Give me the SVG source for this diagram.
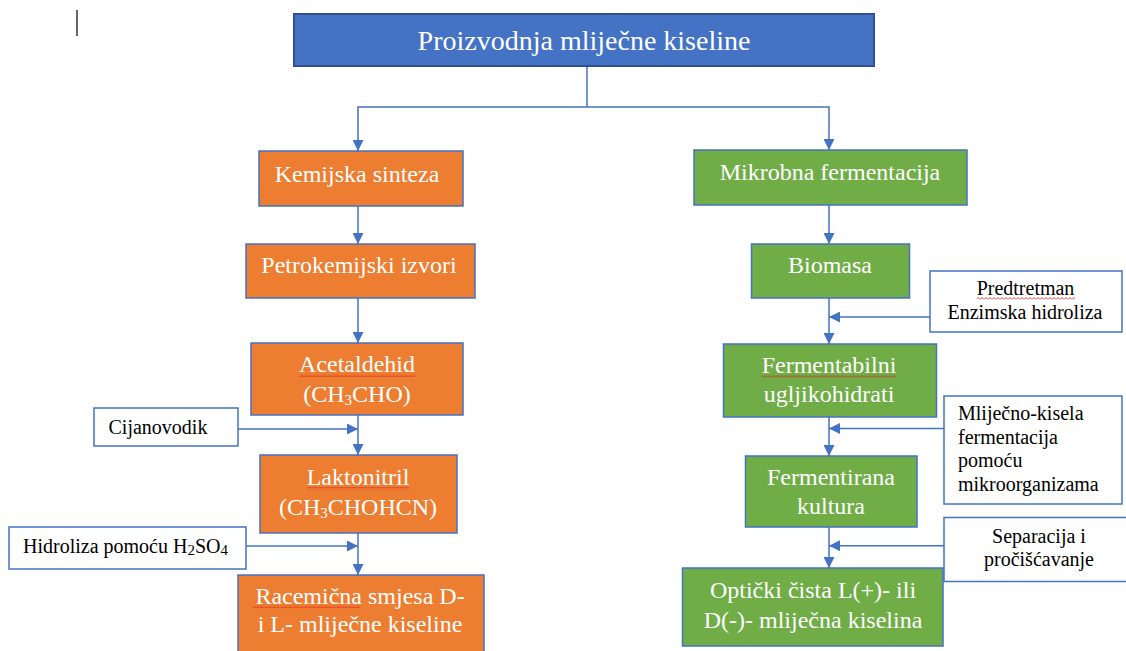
<svg xmlns="http://www.w3.org/2000/svg" width="1126" height="651" viewBox="0 0 1126 651" font-family="'Liberation Serif', 'Times New Roman', 'DejaVu Serif', serif">
<defs>
<marker id="arr" markerUnits="userSpaceOnUse" markerWidth="11" markerHeight="11" viewBox="0 0 10 10" refX="10" refY="5" orient="auto">
<path d="M0,0 L10,5 L0,10 z" fill="#4472C4"/>
</marker>
<pattern id="wavy" width="4" height="3" patternUnits="userSpaceOnUse">
<path d="M0,2.5 L2,0.5 L4,2.5" fill="none" stroke="#E02020" stroke-width="0.9"/>
</pattern>
<style>
text{font-family:'Liberation Serif','Times New Roman','DejaVu Serif',serif;}
.title{fill:#4472C4;stroke:#2F528F;stroke-width:2;}
.orange{fill:#ED7D31;stroke:#4472C4;stroke-width:1.5;}
.green{fill:#70AD47;stroke:#4472C4;stroke-width:1.5;}
.note{fill:#FFFFFF;stroke:#4472C4;stroke-width:1.5;}
.tw{fill:#FFFFFF;font-size:24px;text-anchor:middle;}
.tb{fill:#000000;font-size:20px;}
.tbm{fill:#000000;font-size:20px;text-anchor:middle;}
.conn path{fill:none;stroke:#4472C4;stroke-width:1.5;}
.sub{font-size:15px;}
</style>
</defs>
<rect width="1126" height="651" fill="#FFFFFF"/>
<line x1="77" y1="10" x2="77" y2="36" stroke="#000000" stroke-width="1.2"/>

<g id="connectors" class="conn">
<path d="M587,66 V107"/>
<path d="M587,107 H358 V151" marker-end="url(#arr)"/>
<path d="M587,107 H829 V150" marker-end="url(#arr)"/>
<path d="M358,206 V244" marker-end="url(#arr)"/>
<path d="M358,298 V343" marker-end="url(#arr)"/>
<path d="M358,415 V455" marker-end="url(#arr)"/>
<path d="M238,429 H358" marker-end="url(#arr)"/>
<path d="M358,533 V575" marker-end="url(#arr)"/>
<path d="M246,546 H358" marker-end="url(#arr)"/>
<path d="M829,205 V244" marker-end="url(#arr)"/>
<path d="M829,298 V344" marker-end="url(#arr)"/>
<path d="M930,317 H829" marker-end="url(#arr)"/>
<path d="M829,417 V456" marker-end="url(#arr)"/>
<path d="M944,428.5 H829" marker-end="url(#arr)"/>
<path d="M829,527 V568" marker-end="url(#arr)"/>
<path d="M944,545.7 H829" marker-end="url(#arr)"/>
</g>

<g id="title">
<rect class="title" x="294" y="14" width="580" height="52"/>
<text x="584" y="50" fill="#FFFFFF" font-size="28" text-anchor="middle">Proizvodnja mliječne kiseline</text>
</g>

<g id="kemijska">
<rect class="orange" x="259" y="151" width="204" height="55"/>
<text class="tw" x="357" y="182">Kemijska sinteza</text>
</g>

<g id="petrokemijski">
<rect class="orange" x="246" y="244" width="229" height="54"/>
<text class="tw" x="359" y="273">Petrokemijski izvori</text>
</g>

<g id="acetaldehid">
<rect class="orange" x="251" y="343" width="212" height="72"/>
<text class="tw" x="357" y="372">Acetaldehid</text>
<rect x="299" y="374" width="116" height="3" fill="url(#wavy)"/>
<text class="tw" x="357" y="402">(CH<tspan class="sub" dy="3">3</tspan><tspan dy="-3">CHO)</tspan></text>
</g>

<g id="cijanovodik">
<rect class="note" x="94" y="408" width="144" height="38"/>
<text class="tb" x="108.5" y="434">Cijanovodik</text>
</g>

<g id="laktonitril">
<rect class="orange" x="260" y="455" width="197" height="78"/>
<text class="tw" x="358" y="485">Laktonitril</text>
<rect x="307" y="487" width="102" height="3" fill="url(#wavy)"/>
<text class="tw" x="358" y="515">(CH<tspan class="sub" dy="3">3</tspan><tspan dy="-3">CHOHCN)</tspan></text>
</g>

<g id="hidroliza">
<rect class="note" x="9" y="527" width="237" height="42"/>
<text class="tb" x="23" y="553">Hidroliza pomoću H<tspan class="sub" font-size="13" dy="2">2</tspan><tspan dy="-2">SO</tspan><tspan class="sub" font-size="13" dy="2">4</tspan></text>
</g>

<g id="racemicna">
<rect class="orange" x="238" y="575" width="246" height="90"/>
<text class="tw" x="360" y="603.5">Racemična smjesa D-</text>
<rect x="253" y="605.5" width="107" height="3" fill="url(#wavy)"/>
<text class="tw" x="360" y="631.5">i L- mliječne kiseline</text>
</g>

<g id="mikrobna">
<rect class="green" x="694" y="150" width="273" height="55"/>
<text class="tw" x="830" y="180">Mikrobna fermentacija</text>
</g>

<g id="biomasa">
<rect class="green" x="751.5" y="244" width="158" height="54"/>
<text class="tw" x="830" y="273">Biomasa</text>
</g>

<g id="predtretman">
<rect class="note" x="930" y="271" width="192" height="61"/>
<text class="tbm" x="1025.5" y="295">Predtretman</text>
<rect x="977" y="297" width="98" height="3" fill="url(#wavy)"/>
<text class="tbm" x="1025" y="319">Enzimska hidroliza</text>
</g>

<g id="fermentabilni">
<rect class="green" x="723.5" y="344" width="213" height="73"/>
<text class="tw" x="829" y="373">Fermentabilni</text>
<rect x="762" y="375" width="134" height="3" fill="url(#wavy)"/>
<text class="tw" x="829" y="402">ugljikohidrati</text>
</g>

<g id="mlijecno">
<rect class="note" x="944" y="396" width="178" height="108"/>
<text class="tb" x="958" y="420">Mliječno-kisela</text>
<text class="tb" x="958" y="444">fermentacija</text>
<text class="tb" x="958" y="467">pomoću</text>
<text class="tb" x="958" y="491">mikroorganizama</text>
</g>

<g id="fermentirana">
<rect class="green" x="745.5" y="456" width="171.5" height="71"/>
<text class="tw" x="831" y="485">Fermentirana</text>
<text class="tw" x="831" y="514">kultura</text>
</g>

<g id="separacija">
<rect class="note" x="944" y="517.5" width="190" height="64"/>
<text class="tbm" x="1039" y="543">Separacija i</text>
<text class="tbm" x="1039" y="566">pročišćavanje</text>
</g>

<g id="opticki">
<rect class="green" x="682.5" y="568" width="260.5" height="78" stroke-width="3"/>
<text class="tw" x="813" y="598">Optički čista L(+)- ili</text>
<text class="tw" x="813" y="628">D(-)- mliječna kiselina</text>
</g>
</svg>
